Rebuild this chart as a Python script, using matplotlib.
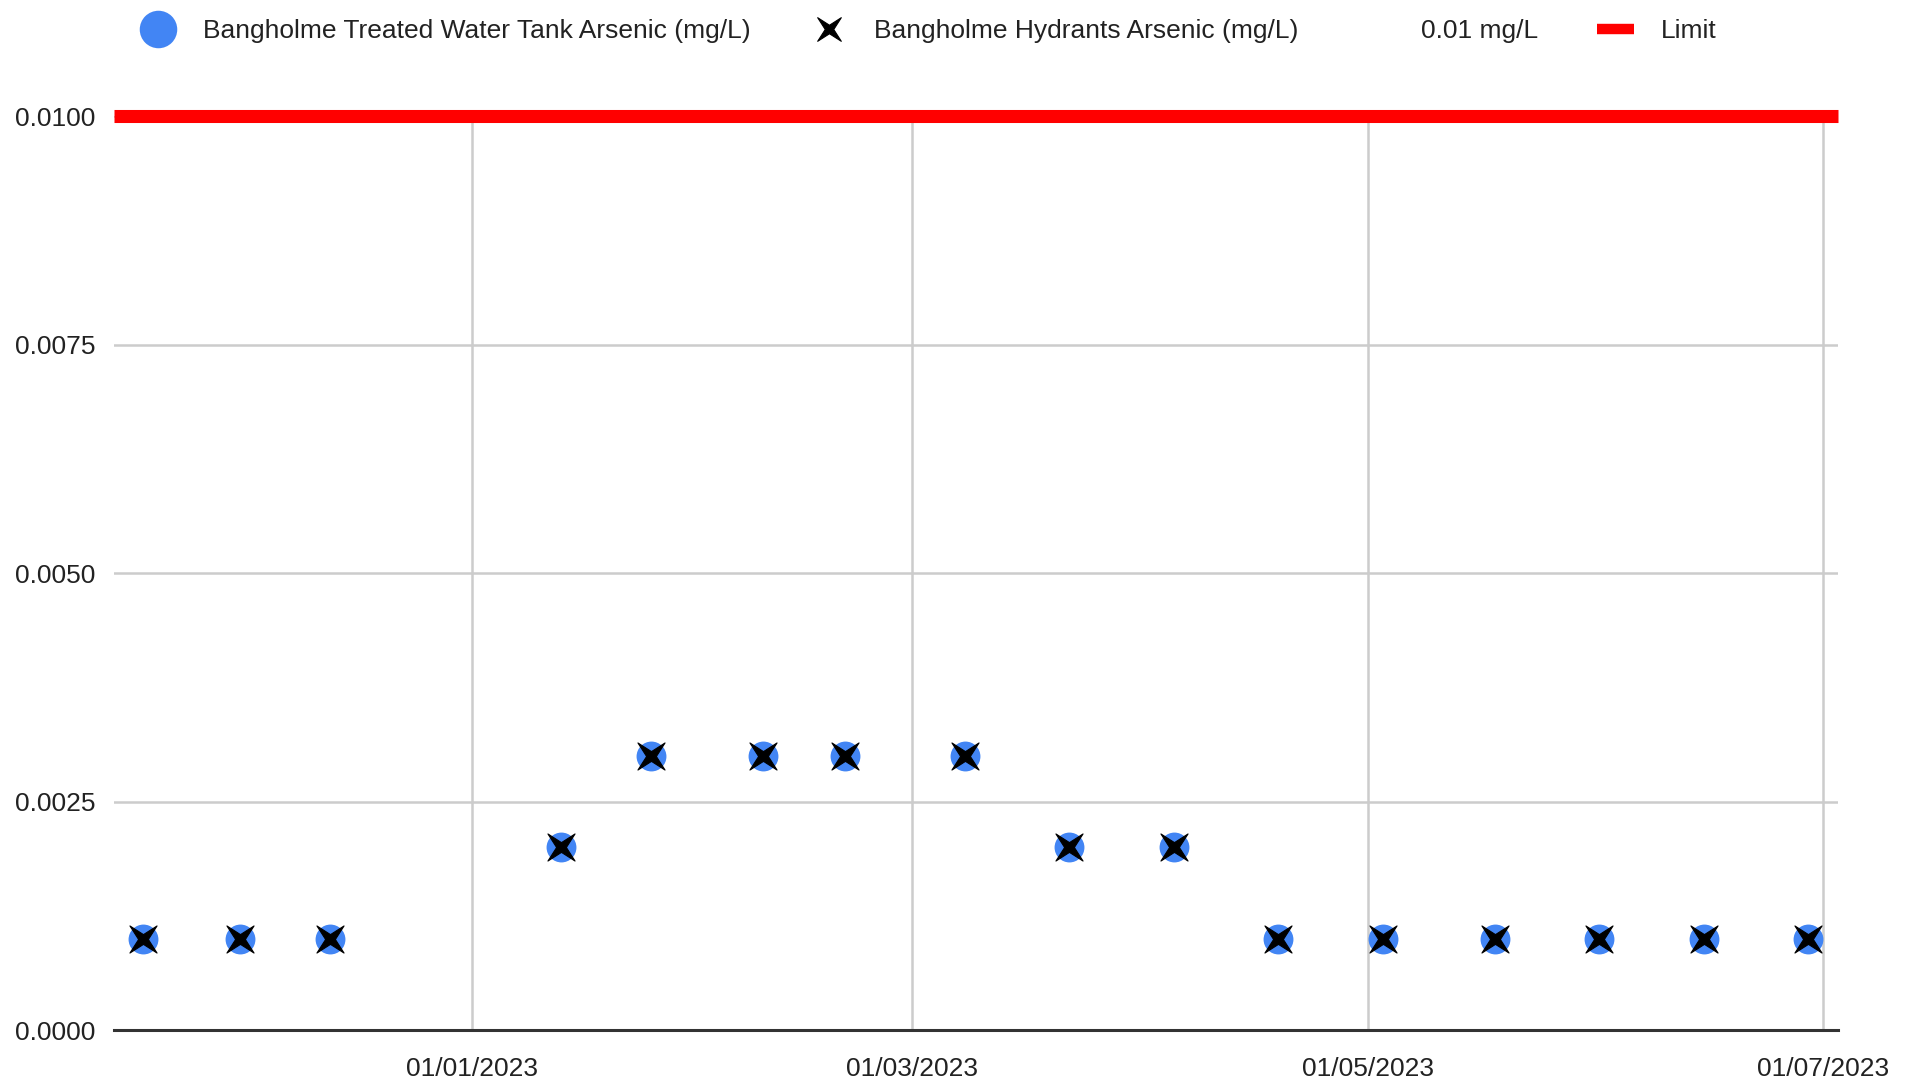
import datetime as dt
import matplotlib
matplotlib.use("Agg")
import matplotlib.pyplot as plt
import matplotlib.dates as mdates
from matplotlib.lines import Line2D
from matplotlib.path import Path

# sample dates and results
sample_dates = ["2022-11-18", "2022-12-01", "2022-12-13", "2023-01-13", "2023-01-25",
                "2023-02-09", "2023-02-20", "2023-03-08", "2023-03-22", "2023-04-05",
                "2023-04-19", "2023-05-03", "2023-05-18", "2023-06-01", "2023-06-15",
                "2023-06-29"]
tank_arsenic = [0.001, 0.001, 0.001, 0.002, 0.003, 0.003, 0.003, 0.003, 0.002, 0.002,
                0.001, 0.001, 0.001, 0.001, 0.001, 0.001]
hydrant_arsenic = [0.001, 0.001, 0.001, 0.002, 0.003, 0.003, 0.003, 0.003, 0.002, 0.002,
                   0.001, 0.001, 0.001, 0.001, 0.001, 0.001]
limit = 0.01
x_range = ["2022-11-14", "2023-07-03"]
y_ticks = [0.0, 0.0025, 0.005, 0.0075, 0.01]

series_labels = ["Bangholme Treated Water Tank Arsenic (mg/L)",
                 "Bangholme Hydrants Arsenic (mg/L)", "0.01 mg/L", "Limit"]

BLUE = "#4285F4"
GRID = "#cccccc"

plt.rcParams["font.family"] = ["Liberation Sans", "DejaVu Sans"]


def x_marker(inner=0.36):
    # four pointed star with tips on the diagonals, like the chart's "x"
    verts = [(1, 1), (inner, 0), (1, -1), (0, -inner), (-1, -1), (-inner, 0),
             (-1, 1), (0, inner), (1, 1)]
    codes = [Path.MOVETO] + [Path.LINETO] * 7 + [Path.CLOSEPOLY]
    return Path(verts, codes)


dates = [dt.datetime.strptime(d, "%Y-%m-%d") for d in sample_dates]
xmark = x_marker()

fig = plt.figure(figsize=(19.14, 10.86), dpi=100)
ax = fig.add_axes([113.5 / 1914, 1 - 1030 / 1086, (1838 - 113.5) / 1914, (1030 - 116) / 1086])

ax.plot(dates, tank_arsenic, linestyle="none", marker="o", markersize=21.5,
        color=BLUE, markeredgewidth=0, zorder=3, clip_on=False)
ax.plot(dates, hydrant_arsenic, linestyle="none", marker=xmark, markersize=19.5,
        color="black", markeredgecolor="black", markeredgewidth=0.8, zorder=4, clip_on=False)
ax.axhline(limit, color="#ff0000", linewidth=9.4, solid_capstyle="butt", zorder=5, clip_on=False)

ax.set_xlim(dt.datetime.strptime(x_range[0], "%Y-%m-%d"), dt.datetime.strptime(x_range[1], "%Y-%m-%d"))
ax.set_ylim(0, 0.01)
ax.set_yticks(y_ticks)
ax.yaxis.set_major_formatter(matplotlib.ticker.FormatStrFormatter("%.4f"))
ax.xaxis.set_major_locator(mdates.MonthLocator(bymonth=[1, 3, 5, 7]))
ax.xaxis.set_major_formatter(mdates.DateFormatter("%d/%m/%Y"))

ax.grid(True, color=GRID, linewidth=1.8, zorder=0)
ax.set_axisbelow(True)
for side in ["top", "right", "left"]:
    ax.spines[side].set_visible(False)
ax.spines["bottom"].set_color("#333333")
ax.spines["bottom"].set_linewidth(2.2)
ax.spines["bottom"].set_zorder(6)

ax.tick_params(axis="both", length=0, labelsize=19, labelcolor="#222222")
ax.tick_params(axis="x", pad=19.5)
ax.tick_params(axis="y", pad=13)

handles = [
    Line2D([], [], linestyle="none", marker="o", markersize=27, color=BLUE, markeredgewidth=0),
    Line2D([], [], linestyle="none", marker=xmark, markersize=17, color="black",
           markeredgewidth=0.8),
    Line2D([], [], linestyle="none"),
    Line2D([], [], color="#ff0000", linewidth=7.5, solid_capstyle="butt"),
]
fig.legend(handles, series_labels, loc="center left", bbox_to_anchor=(140 / 1914, 1 - 31 / 1086),
           ncol=4, frameon=False, fontsize=19, handlelength=1.4, handletextpad=1.0,
           columnspacing=2.25, borderpad=0, borderaxespad=0, labelcolor="#222222")

fig.savefig("out.png", dpi=100)
